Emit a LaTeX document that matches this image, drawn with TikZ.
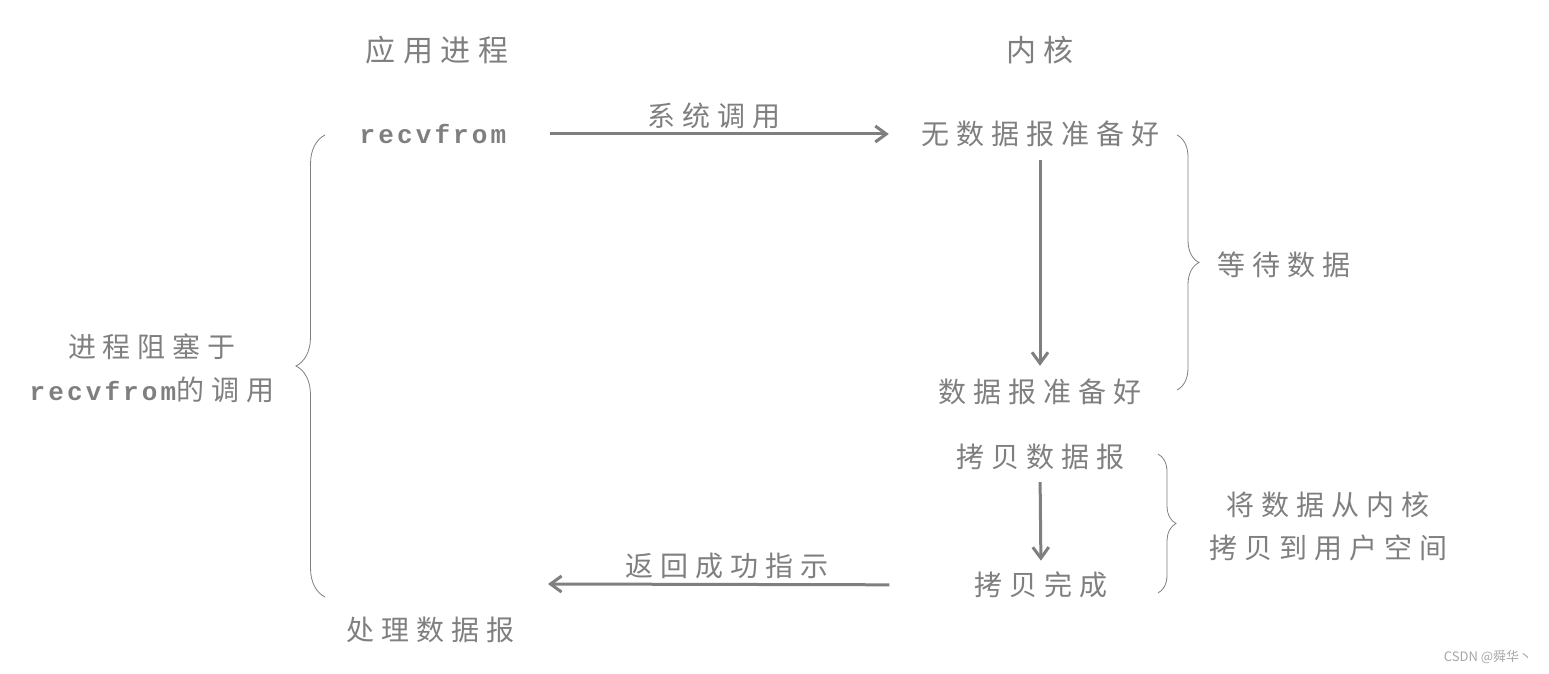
\documentclass[tikz,border=0pt]{standalone}
\usepackage{fontspec}
\usetikzlibrary{arrows.meta,decorations.pathreplacing}
\newfontfamily\cjk[LetterSpace=25]{Noto Sans CJK SC}
\newfontfamily\mono[LetterSpace=12]{Liberation Mono}
\newfontfamily\plain{Noto Sans CJK SC}
\definecolor{ink}{HTML}{7F7F7F}
\tikzset{
	txt/.style={text=ink, inner sep=0pt, align=center, font=\cjk\fontsize{28}{43}\selectfont},
	head/.style={txt, font=\cjk\fontsize{30}{36}\selectfont},
	code/.style={txt, font=\mono\bfseries\fontsize{26}{32}\selectfont},
	flow/.style={draw=ink, line width=3pt, -{Straight Barb[length=11pt,width=16pt]}},
	curly/.style={draw=ink, line width=0.8pt, decorate, decoration={brace, amplitude=#1}}
}
\newcommand\recvword{{\mono\bfseries\fontsize{26}{43}\selectfont recvfrom}}

\begin{document}
\begin{tikzpicture}[x=1pt, y=-1pt]
		%%%%% START %%%%%
		\useasboundingbox (0, 0) rectangle (1549, 674);
		
		\node[head] (app) at (437, 50) {应用进程};
		\node[head] (kern) at (1040, 50) {内核};
		
		\node[code] (recv) at (433, 134) {recvfrom};
		\node[txt] (nodata) at (1040, 134) {无数据报准备好};
		\node[txt] (ready) at (1040, 392) {数据报准备好};
		\node[txt] (copy) at (1040, 457) {拷贝数据报};
		\node[txt] (done) at (1041, 585) {拷贝完成};
		\node[txt] (handle) at (430, 630) {处理数据报};
		\coordinate (back) at (548, 584);
		
		\draw[flow, shorten <=43pt, shorten >=32pt] (recv.east) -- (nodata.west)
			node[txt, midway, above=4pt] (syscall) {系统调用};
		\draw[flow, shorten <=13pt, shorten >=13pt] (nodata.south) -- (ready.north);
		\draw[flow, shorten <=12pt, shorten >=11pt] (copy.south) -- (done.north);
		\draw[flow, shorten <=85pt] (done.west) -- (back)
			node[txt, pos=0.58, above=4pt] (ret) {返回成功指示};
		
		\draw[curly=29pt] (325, 597) -- (325, 135);
		\node[txt] (block) at (152, 368) {进程阻塞于\\\recvword 的调用};
		
		\draw[curly=22pt] (1177, 135) -- (1177, 390);
		\node[txt] (wait) at (1284, 265) {等待数据};
		
		\draw[curly=18pt] (1158, 454) -- (1158, 593);
		\node[txt] (move) at (1328, 526) {将数据从内核\\拷贝到用户空间};
		
		\node[text=gray!70, inner sep=0pt, font=\plain\fontsize{13}{15}\selectfont] (mark) at (1488, 657) {CSDN @舜华丶};
		%%%%% END %%%%%
	\end{tikzpicture}
\end{document}
